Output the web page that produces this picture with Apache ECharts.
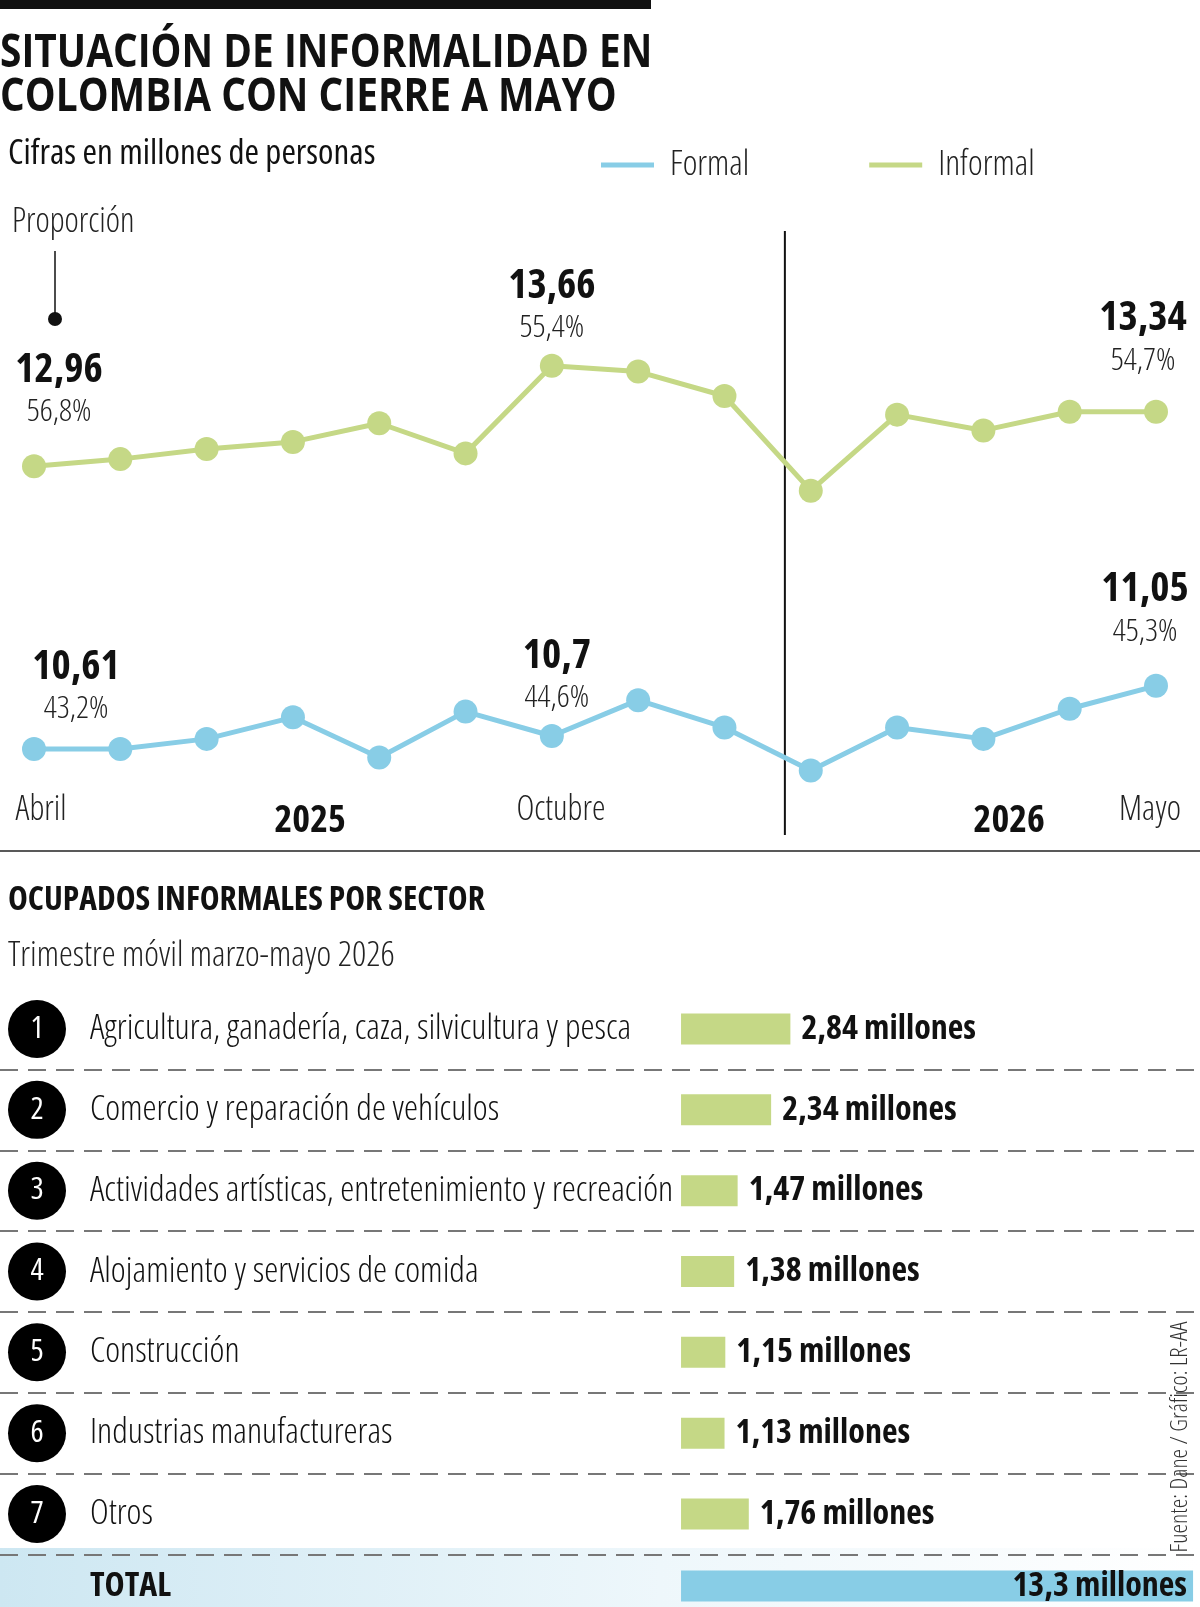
<!DOCTYPE html>
<html lang="es">
<head>
    <meta charset="UTF-8">
    <title>Situación de informalidad en Colombia</title>
    <script src="https://cdn.jsdelivr.net/npm/echarts@6/dist/echarts.min.js"></script>
    <style>
        html, body { margin: 0; padding: 0; background: #fff; }
        #chart { width: 1200px; height: 1607px; }
    </style>
</head>
<body>
    <div id="chart"></div>
</body>
<script>
    // --- datos ---
    var months = ['abr-25', 'may-25', 'jun-25', 'jul-25', 'ago-25', 'sep-25', 'oct-25',
        'nov-25', 'dic-25', 'ene-26', 'feb-26', 'mar-26', 'abr-26', 'may-26'];
    var monthTicks = ['Abril', '', '', '', '', '', 'Octubre', '', '', '', '', '', '', 'Mayo'];
    var years = ['2025', '2026'];
    var informal = [12.96, 13.01, 13.08, 13.13, 13.26, 13.05, 13.66, 13.62, 13.45, 12.79, 13.32, 13.21, 13.34, 13.34];
    var formal = [10.61, 10.61, 10.68, 10.83, 10.55, 10.87, 10.70, 10.95, 10.76, 10.46, 10.76, 10.68, 10.89, 11.05];
    var labelIdx = [0, 6, 13];
    var informalShare = ['56,8%', '55,4%', '54,7%'];
    var formalShare = ['43,2%', '44,6%', '45,3%'];

    var sectors = ['Agricultura, ganadería, caza, silvicultura y pesca', 'Comercio y reparación de vehículos',
        'Actividades artísticas, entretenimiento y recreación', 'Alojamiento y servicios de comida',
        'Construcción', 'Industrias manufactureras', 'Otros'];
    var sectorValues = [2.84, 2.34, 1.47, 1.38, 1.15, 1.13, 1.76];
    var totalLabel = 'TOTAL';
    var totalValue = 13.3;

    // --- estilos ---
    // Open Sans en ancho condensado (font-stretch en la abreviatura de fuente del canvas)
    var FONT = '"Open Sans", "DejaVu Sans Condensed", sans-serif';
    var COND = 'condensed';
    var GREEN = '#c5d886';
    var BLUE = '#88cde6';
    // escala horizontal común de las barras (el 0 cae en x = 681)
    var BAR_MIN = -17.69, BAR_MAX = 13.48;

    function fmt(v) { return String(v).replace('.', ','); }

    // desplazamiento de las etiquetas destacadas
    var infOffsets = [[25, -22], [0, -6], [-13, -19]];
    var forOffsets = [[42, -8], [5, -6], [-11, -22]];
    // corrimiento horizontal de los rótulos de mes
    var tickPad = { 'Abril': [0, 0, 0, 14], 'Octubre': [0, 0, 0, 18], 'Mayo': [0, 12, 0, 0] };

    function lineData(values, shares, offsets) {
        return values.map(function (v, i) {
            var k = labelIdx.indexOf(i);
            if (k < 0) return v;
            return {
                value: v,
                label: {
                    show: true,
                    offset: offsets[k],
                    formatter: '{n|' + fmt(v) + '}\n{p|' + shares[k] + '}'
                }
            };
        });
    }

    var labelRich = {
        n: { fontFamily: FONT, fontStyle: COND, fontSize: 41, fontWeight: 'bold', color: '#111', lineHeight: 44 },
        p: { fontFamily: FONT, fontStyle: COND, fontSize: 32, fontWeight: 300, color: '#222', lineHeight: 40 }
    };

    var monthRich = {};
    monthTicks.forEach(function (m, i) {
        if (m) monthRich['m' + i] = {
            fontFamily: FONT, fontStyle: COND, fontWeight: 300, fontSize: 34, color: '#222', padding: tickPad[m]
        };
    });

    var barLabel = {
        show: true,
        position: 'right',
        distance: 11,
        fontFamily: FONT,
        fontStyle: COND,
        fontSize: 34,
        fontWeight: 'bold',
        color: '#111',
        formatter: function (p) { return fmt(p.value) + ' millones'; }
    };

    var chart = echarts.init(document.getElementById('chart'));
    var option = {
        animation: false,
        backgroundColor: '#fff',
        legend: {
            left: 596,
            top: 140,
            icon: 'rect',
            itemWidth: 53,
            itemHeight: 5,
            itemGap: 120,
            data: ['Formal', 'Informal'],
            textStyle: { fontFamily: FONT, fontStyle: COND, fontWeight: 300, fontSize: 35, color: '#222', padding: [0, 0, 0, 11], lineHeight: 40 }
        },
        grid: [
            { left: 34, right: 44, top: 231, height: 604, outerBoundsMode: 'none' },
            { left: 0, right: 0, top: 988.6, height: 565.8, outerBoundsMode: 'none' },
            { left: 0, right: 0, top: 1555, height: 62, outerBoundsMode: 'none' }
        ],
        xAxis: [
            {
                gridIndex: 0,
                type: 'category',
                boundaryGap: false,
                data: months,
                axisLine: { show: false },
                axisTick: { show: false },
                axisLabel: {
                    inside: true,
                    interval: 0,
                    margin: 8,
                    formatter: function (v, i) { return monthTicks[i] ? '{m' + i + '|' + monthTicks[i] + '}' : ''; },
                    rich: monthRich
                }
            },
            { gridIndex: 1, type: 'value', min: BAR_MIN, max: BAR_MAX, show: false },
            { gridIndex: 2, type: 'value', min: BAR_MIN, max: BAR_MAX, show: false }
        ],
        yAxis: [
            { gridIndex: 0, type: 'value', min: 10.39, max: 14.60, show: false },
            { gridIndex: 0, type: 'value', min: 10.01, max: 14.22, show: false },
            {
                gridIndex: 1,
                type: 'category',
                inverse: true,
                data: sectors,
                axisLine: { show: false },
                axisTick: { show: false },
                splitLine: {
                    show: true,
                    interval: function (i) { return i >= 1; },
                    lineStyle: { color: '#777', width: 2, type: [18, 10] }
                },
                axisLabel: {
                    inside: true,
                    margin: 8,
                    interval: 0,
                    formatter: function (v, i) { return '{c|' + (i + 1) + '}{t|' + v + '}'; },
                    rich: {
                        c: {
                            width: 58, height: 58, borderRadius: 29, backgroundColor: '#000',
                            color: '#fff', align: 'center', fontFamily: FONT, fontStyle: COND, fontSize: 31
                        },
                        t: { padding: [0, 0, 0, 24], fontFamily: FONT, fontStyle: COND, fontWeight: 300, fontSize: 35.5, color: '#111' }
                    }
                }
            },
            {
                gridIndex: 2,
                type: 'category',
                data: [totalLabel],
                axisLine: { show: false },
                axisTick: { show: false },
                axisLabel: {
                    inside: true,
                    margin: 90,
                    fontFamily: FONT,
                    fontStyle: COND,
                    fontSize: 34,
                    fontWeight: 'bold',
                    color: '#111',
                    padding: [0, 0, 14, 0]
                }
            }
        ],
        series: [
            {
                name: 'Informal',
                type: 'line',
                xAxisIndex: 0,
                yAxisIndex: 0,
                data: lineData(informal, informalShare, infOffsets),
                color: GREEN,
                symbol: 'circle',
                symbolSize: 24,
                lineStyle: { width: 5 },
                label: { show: false, position: 'top', distance: 0, align: 'center', rich: labelRich },
                z: 3
            },
            {
                name: 'Formal',
                type: 'line',
                xAxisIndex: 0,
                yAxisIndex: 1,
                data: lineData(formal, formalShare, forOffsets),
                color: BLUE,
                symbol: 'circle',
                symbolSize: 24,
                lineStyle: { width: 5 },
                label: { show: false, position: 'top', distance: 0, align: 'center', rich: labelRich },
                z: 3
            },
            {
                name: 'Sectores',
                type: 'bar',
                xAxisIndex: 1,
                yAxisIndex: 2,
                barWidth: 31,
                color: GREEN,
                data: sectorValues,
                label: barLabel,
                z: 2
            },
            {
                name: 'Total',
                type: 'bar',
                xAxisIndex: 2,
                yAxisIndex: 3,
                barWidth: 31,
                color: BLUE,
                data: [totalValue],
                label: echarts.util.merge({ position: 'insideRight', distance: 6 }, barLabel),
                z: 2
            }
        ]
    };
    chart.setOption(option);

    // textos y líneas de apoyo, ubicados con las escalas del gráfico
    function px(idx) { return chart.convertToPixel({ xAxisIndex: 0 }, idx); }
    function between(i, t) { return px(i) + (px(i + 1) - px(i)) * t; }
    var divX = between(8, 0.7);
    var grid0Top = 231, grid0Bottom = 835;

    function txt(x, y, text, size, weight, extra) {
        var el = {
            type: 'text', x: x, y: y,
            style: {
                text: text, fontFamily: FONT, fontStyle: COND, fontSize: size,
                fontWeight: weight, fill: '#111', verticalAlign: 'middle'
            }
        };
        for (var k in extra) el.style[k] = extra[k];
        return el;
    }

    // título: Open Sans Bold ancho normal, comprimido en horizontal
    function titleLine(y, text) {
        var el = txt(0, y, text, 46, 'bold', { fontStyle: 'normal' });
        el.scaleX = 0.845;
        return el;
    }

    var source = txt(1180, 1437, 'Fuente: Dane / Gráfico: LR-AA', 24, 300, { align: 'center', fill: '#333' });
    source.rotation = Math.PI / 2;

    chart.setOption({
        graphic: [
            { type: 'rect', shape: { x: 0, y: 0, width: 651, height: 9 }, style: { fill: '#111' } },
            titleLine(54, 'SITUACIÓN DE INFORMALIDAD EN'),
            titleLine(98, 'COLOMBIA CON CIERRE A MAYO'),
            txt(8, 154, 'Cifras en millones de personas', 35, 'normal'),
            txt(12, 222, 'Proporción', 34, 300, { fill: '#222' }),
            { type: 'line', shape: { x1: 55, y1: 251, x2: 55, y2: 313 }, style: { stroke: '#111', lineWidth: 1.5 } },
            { type: 'circle', shape: { cx: 55, cy: 319, r: 7 }, style: { fill: '#111' } },
            { type: 'line', shape: { x1: divX, y1: grid0Top, x2: divX, y2: grid0Bottom }, style: { stroke: '#111', lineWidth: 2 } },
            txt(between(3, 0.2), 821, years[0], 38, 'bold', { align: 'center' }),
            txt(between(11, 0.3), 821, years[1], 38, 'bold', { align: 'center' }),
            { type: 'line', shape: { x1: 0, y1: 851, x2: 1200, y2: 851 }, style: { stroke: '#222', lineWidth: 1.5 } },
            txt(8, 900, 'OCUPADOS INFORMALES POR SECTOR', 33.5, 'bold'),
            txt(8, 956, 'Trimestre móvil marzo-mayo 2026', 35, 300, { fill: '#222' }),
            {
                type: 'rect', z: -1, shape: { x: 0, y: 1548, width: 1200, height: 59 },
                style: {
                    fill: new echarts.graphic.LinearGradient(0, 0, 1, 0, [
                        { offset: 0, color: '#cde7f2' },
                        { offset: 0.55, color: '#eef7fb' },
                        { offset: 1, color: '#ffffff' }
                    ])
                }
            },
            source
        ]
    });
</script>
</html>
